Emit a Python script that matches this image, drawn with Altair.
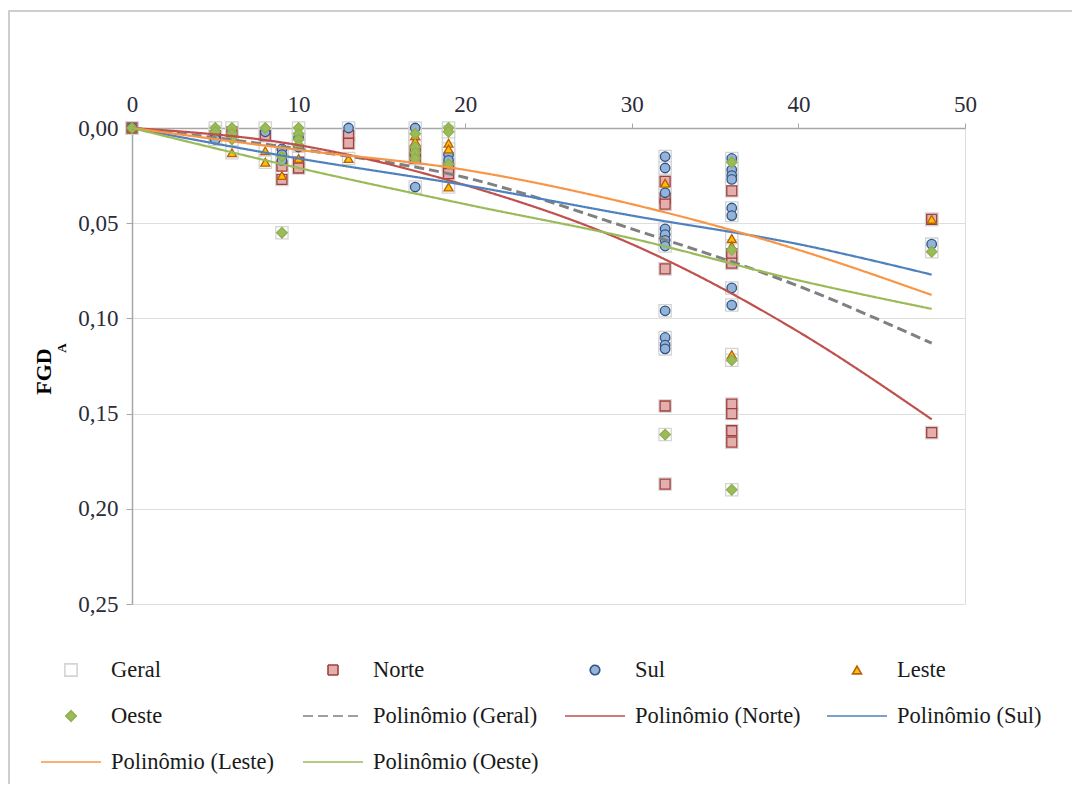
import altair as alt
import pandas as pd

# ---------------- data ----------------
series_names = ["Geral", "Norte", "Sul", "Leste", "Oeste",
                "Polinômio (Geral)", "Polinômio (Norte)", "Polinômio (Sul)",
                "Polinômio (Leste)", "Polinômio (Oeste)"]

x_ticks = [0, 10, 20, 30, 40, 50]
y_ticks = [0.0, 0.05, 0.10, 0.15, 0.20, 0.25]

norte_x = [0, 5, 6, 8, 9, 9, 10, 10, 13, 13, 17, 17, 19, 19,
           32, 32, 32, 32, 32, 32, 36, 36, 36, 36, 36, 36, 36, 48, 48]
norte_y = [0.000, 0.004, 0.002, 0.004, 0.020, 0.027, 0.018, 0.021, 0.004, 0.008,
           0.012, 0.016, 0.021, 0.024,
           0.028, 0.037, 0.040, 0.074, 0.146, 0.187,
           0.033, 0.066, 0.071, 0.145, 0.150, 0.159, 0.165,
           0.048, 0.160]

sul_x = [0, 5, 5, 8, 9, 9, 9, 10, 10, 13, 17, 17, 19, 19,
         32, 32, 32, 32, 32, 32, 32, 32, 32, 32, 32,
         36, 36, 36, 36, 36, 36, 36, 36, 48]
sul_y = [0.000, 0.003, 0.006, 0.002, 0.011, 0.014, 0.017, 0.005, 0.010, 0.000,
         0.000, 0.031, 0.014, 0.017,
         0.015, 0.021, 0.034, 0.053, 0.056, 0.059, 0.062, 0.096, 0.110, 0.114, 0.116,
         0.016, 0.022, 0.025, 0.027, 0.042, 0.046, 0.084, 0.093,
         0.061]

leste_x = [0, 6, 8, 8, 9, 10, 13, 17, 17, 19, 19, 19, 32, 36, 36, 36, 48]
leste_y = [0.000, 0.013, 0.012, 0.018, 0.025, 0.016, 0.016, 0.004, 0.007,
           0.008, 0.011, 0.031, 0.029, 0.058, 0.062, 0.119, 0.048]

oeste_x = [0, 5, 5, 6, 6, 6, 8, 9, 9, 10, 10, 10, 10, 17, 17, 17, 17,
           19, 19, 19, 32, 36, 36, 36, 36, 48]
oeste_y = [0.000, 0.000, 0.002, 0.000, 0.003, 0.006, 0.000, 0.015, 0.055,
           0.000, 0.003, 0.006, 0.009, 0.003, 0.010, 0.013, 0.016,
           0.000, 0.002, 0.019, 0.161, 0.018, 0.064, 0.122, 0.190, 0.065]

# trend curves
trend_x = [0, 10, 20, 30, 40, 48]
trend_geral = [0.000, 0.011, 0.026, 0.053, 0.083, 0.113]
trend_norte = [0.000, 0.009, 0.030, 0.061, 0.107, 0.153]
trend_sul = [0.000, 0.016, 0.030, 0.046, 0.061, 0.077]
trend_leste = [0.000, 0.0115, 0.022, 0.040, 0.064, 0.0877]
trend_oeste = [0.000, 0.021, 0.040, 0.058, 0.080, 0.095]

# ---------------- tables ----------------
groups = [("Norte", norte_x, norte_y), ("Sul", sul_x, sul_y),
          ("Leste", leste_x, leste_y), ("Oeste", oeste_x, oeste_y)]
frames = []
allx, ally = [], []
for name, xs, ys in groups:
    allx += xs
    ally += ys
frames.append(pd.DataFrame({"series": "Geral", "x": allx, "y": ally}))
for name, xs, ys in groups:
    frames.append(pd.DataFrame({"series": name, "x": xs, "y": ys}))
points_df = pd.concat(frames, ignore_index=True)

trends = [("Polinômio (Geral)", trend_geral), ("Polinômio (Norte)", trend_norte),
          ("Polinômio (Sul)", trend_sul), ("Polinômio (Leste)", trend_leste),
          ("Polinômio (Oeste)", trend_oeste)]
lines_df = pd.concat([pd.DataFrame({"series": n, "x": trend_x, "y": v}) for n, v in trends],
                     ignore_index=True)

# ---------------- styling ----------------
FONT = "Liberation Serif, 'Times New Roman', serif"
LINE = "M-1,0L1,0"
fill_range = ["#ffffff", "#e3aeac", "#95b3d7", "#ffc000", "#9bbb59"] + ["transparent"] * 5
stroke_range = ["#d4d4d4", "#a0403d", "#2f5587", "#b8600c", "#8fb04d",
                "#808080", "#c0504d", "#4f81bd", "#f79646", "#9bbb59"]
shape_range = ["square", "square", "circle", "triangle-up", "diamond"] + [LINE] * 5
size_range = [150, 100, 90, 80, 110] + [3600] * 5
dash_range = [[1, 0]] * 5 + [[10, 5]] + [[1, 0]] * 4

legend = alt.Legend(title=None, orient="none", legendX=-92, legendY=530, columns=4,
                    direction="horizontal",
                    gridAlign="all", columnPadding=25, rowPadding=22, clipHeight=24,
                    labelFont=FONT, labelFontSize=22.5, labelColor="#1a1a1a",
                    labelOffset=9, labelLimit=400, symbolStrokeWidth=1.6, padding=0)

xscale = alt.Scale(domain=[0, 50], nice=False)
yscale = alt.Scale(domain=[0, 0.25], reverse=True, nice=False)

xaxis = alt.Axis(orient="top", values=x_ticks, grid=False, title=None, labelFlush=False,
                 domainColor="#a6a6a6", domainWidth=1.5, tickColor="#a6a6a6", tickSize=5,
                 labelFont=FONT, labelFontSize=23, labelColor="#2b2b3a",
                 labelPadding=7)
yaxis = alt.Axis(orient="left", values=y_ticks, grid=True, gridColor="#dedede", labelFlush=False,
                 domainColor="#a6a6a6", domainWidth=1.5, tickColor="#a6a6a6", tickSize=6,
                 labelFont=FONT, labelFontSize=23, labelColor="#2b2b3a",
                 labelPadding=8,
                 labelExpr="replace(format(datum.value, '.2f'), '.', ',')",
                 title="FGD", titleFont=FONT, titleFontSize=22,
                 titleFontWeight="bold", titleColor="#000000", titleX=-77, titleY=243)

sc_fill = alt.Scale(domain=series_names, range=fill_range)
sc_stroke = alt.Scale(domain=series_names, range=stroke_range)
sc_shape = alt.Scale(domain=series_names, range=shape_range)
sc_size = alt.Scale(type="ordinal", domain=series_names, range=size_range)
sc_dash = alt.Scale(domain=series_names, range=dash_range)

points = alt.Chart(points_df).mark_point(opacity=1, strokeWidth=1.3).encode(
    x=alt.X("x:Q", scale=xscale, axis=xaxis),
    y=alt.Y("y:Q", scale=yscale, axis=yaxis),
    fill=alt.Fill("series:N", scale=sc_fill, legend=legend, sort=series_names),
    stroke=alt.Stroke("series:N", scale=sc_stroke, legend=legend, sort=series_names),
    shape=alt.Shape("series:N", scale=sc_shape, legend=legend, sort=series_names),
    size=alt.Size("series:N", scale=sc_size, legend=legend, sort=series_names),
)

line_enc = dict(
    x=alt.X("x:Q", scale=xscale),
    y=alt.Y("y:Q", scale=yscale),
    stroke=alt.Stroke("series:N", scale=sc_stroke, legend=legend, sort=series_names),
    strokeDash=alt.StrokeDash("series:N", scale=sc_dash, legend=legend, sort=series_names),
    order=alt.Order("x:Q"),
)
lines = alt.Chart(lines_df).mark_line(strokeWidth=2.2, interpolate="monotone").encode(
    **line_enc).transform_filter(alt.datum.series != "Polinômio (Geral)")
dashed = alt.Chart(lines_df).mark_line(strokeWidth=3, interpolate="monotone").encode(
    **line_enc).transform_filter(alt.datum.series == "Polinômio (Geral)")

one = pd.DataFrame({"a": [0]})
frame = alt.Chart(one).mark_rect(fill="transparent", stroke="#bfbfbf", strokeWidth=1.5).encode(
    x=alt.value(-123), x2=alt.value(1000), y=alt.value(-117), y2=alt.value(700)
)
sub = alt.Chart(one).mark_text(text="A", font=FONT, fontSize=13,
                               fontWeight="bold", angle=270, color="#000000").encode(
    x=alt.value(-70), y=alt.value(220)
)

chart = alt.layer(frame, points, dashed, lines, sub).properties(
    width=833, height=476,
    autosize=alt.AutoSizeParams(type="none"),
    padding={"left": 124, "top": 120, "right": 107, "bottom": 180},
).configure_view(stroke=None).configure(font=FONT)

chart.save("out.html", embed_options={"renderer": "svg", "actions": False})
